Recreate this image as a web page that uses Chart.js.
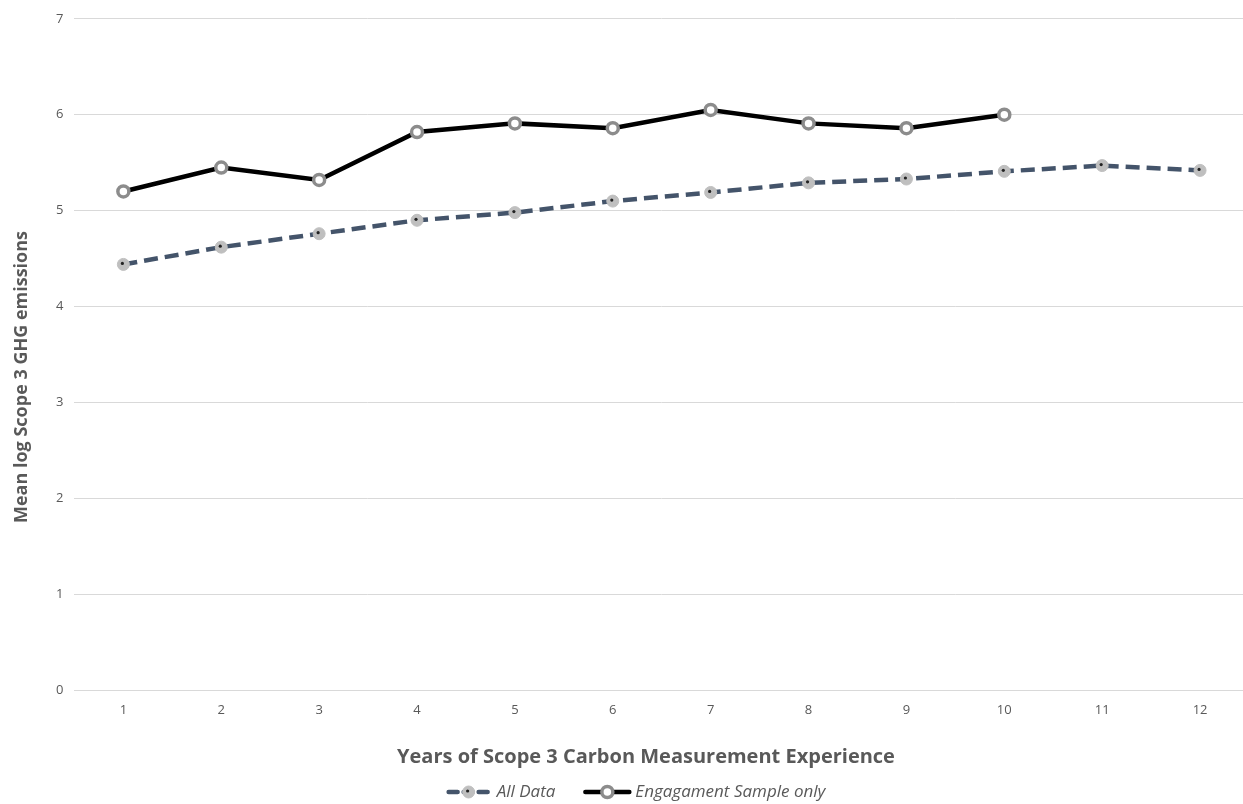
<!DOCTYPE html>
<html>
<head>
<meta charset="utf-8">
<script src="https://cdn.jsdelivr.net/npm/chart.js@4/dist/chart.umd.min.js"></script>
<style>
  html, body { margin: 0; padding: 0; background: #fff; overflow: hidden; }
  canvas { display: block; }
</style>
</head>
<body>
<canvas id="chart" width="1258" height="804"></canvas>
<script>
// data
var years = ['1', '2', '3', '4', '5', '6', '7', '8', '9', '10', '11', '12'];
var allData = [4.44, 4.62, 4.76, 4.90, 4.98, 5.10, 5.19, 5.29, 5.33, 5.41, 5.47, 5.42];
var engagement = [5.20, 5.45, 5.32, 5.82, 5.91, 5.86, 6.05, 5.91, 5.86, 6.00, null, null];
var yTicks = [0, 1, 2, 3, 4, 5, 6, 7];

var FONT = "'Open Sans', 'Liberation Sans', sans-serif";
var GREY = '#595959';
var X_TITLE = 'Years of Scope 3 Carbon Measurement Experience';
var Y_TITLE = 'Mean log Scope 3 GHG emissions';

// small dark fleck in the middle of the grey "All Data" markers
var flecks = {
  id: 'flecks',
  afterDatasetsDraw: function(chart) {
    var ctx = chart.ctx;
    var meta = chart.getDatasetMeta(0);
    ctx.save();
    ctx.fillStyle = '#222';
    meta.data.forEach(function(pt) {
      ctx.beginPath();
      ctx.arc(pt.x - 1, pt.y - 1, 1.6, 0, Math.PI * 2);
      ctx.fill();
    });
    ctx.restore();
  }
};

// axis titles and legend drawn by hand so they sit where the original has them
var extras = {
  id: 'extras',
  afterDraw: function(chart) {
    var ctx = chart.ctx;
    ctx.save();
    ctx.fillStyle = GREY;
    ctx.textAlign = 'center';
    ctx.textBaseline = 'middle';

    ctx.font = 'bold 20px ' + FONT;
    ctx.fillText(X_TITLE, 646, 757);

    ctx.save();
    ctx.translate(22, 377);
    ctx.rotate(-Math.PI / 2);
    ctx.font = 'bold 18px ' + FONT;
    ctx.fillText(Y_TITLE, 0, 0);
    ctx.restore();

    // legend
    ctx.font = 'italic 17px ' + FONT;
    var lineW = 48, gapText = 4, gapItem = 28;
    var items = chart.data.datasets.map(function(ds) {
      return { ds: ds, w: ctx.measureText(ds.label).width };
    });
    var total = 0;
    items.forEach(function(it, i) { total += lineW + gapText + it.w + (i ? gapItem : 0); });
    var x = 635 - total / 2, y = 792;
    ctx.textAlign = 'left';
    items.forEach(function(it, i) {
      var ds = it.ds;
      if (i) x += gapItem;
      ctx.beginPath();
      ctx.setLineDash(ds.borderDash ? [9, 6] : []);
      ctx.lineDashOffset = ds.borderDash ? -2 : 0;
      ctx.lineWidth = ds.borderWidth;
      ctx.strokeStyle = ds.borderColor;
      ctx.lineCap = 'round';
      ctx.moveTo(x + 2, y);
      ctx.lineTo(x + lineW - 2, y);
      ctx.stroke();
      ctx.setLineDash([]);
      ctx.beginPath();
      ctx.arc(x + lineW / 2, y, ds.pointRadius, 0, Math.PI * 2);
      ctx.fillStyle = ds.pointBackgroundColor;
      ctx.fill();
      ctx.lineWidth = ds.pointBorderWidth;
      ctx.strokeStyle = ds.pointBorderColor;
      ctx.stroke();
      if (ds.borderDash) {
        ctx.beginPath();
        ctx.fillStyle = '#222';
        ctx.arc(x + lineW / 2 - 1, y - 1, 1.6, 0, Math.PI * 2);
        ctx.fill();
      }
      x += lineW + gapText;
      ctx.fillStyle = GREY;
      ctx.fillText(ds.label, x, y);
      x += it.w;
    });
    ctx.restore();
  }
};

new Chart(document.getElementById('chart'), {
  type: 'line',
  data: {
    labels: years,
    datasets: [{
      label: 'All Data',
      data: allData,
      borderColor: '#44546A',
      backgroundColor: '#44546A',
      borderWidth: 4.5,
      borderDash: [14, 7],
      pointRadius: 6,
      pointBackgroundColor: '#BFBFBF',
      pointBorderColor: '#BFBFBF',
      pointBorderWidth: 1,
      tension: 0,
      order: 2
    }, {
      label: 'Engagament Sample only',
      data: engagement,
      borderColor: '#000000',
      backgroundColor: '#000000',
      borderWidth: 4.5,
      pointRadius: 5.5,
      pointBackgroundColor: '#FFFFFF',
      pointBorderColor: '#8C8C8C',
      pointBorderWidth: 3.5,
      tension: 0,
      order: 1
    }]
  },
  options: {
    responsive: false,
    animation: false,
    layout: { padding: { left: 45, right: 1, top: 12, bottom: 74 } },
    plugins: {
      legend: { display: false },
      tooltip: { enabled: false }
    },
    scales: {
      x: {
        offset: true,
        grid: { display: false, drawTicks: false },
        border: { display: true, color: '#D9D9D9', width: 1 },
        ticks: { color: GREY, font: { family: FONT, size: 13 }, padding: 12 }
      },
      y: {
        min: 0,
        max: 7,
        afterBuildTicks: function(axis) {
          axis.ticks = yTicks.map(function(v) { return { value: v }; });
        },
        grid: { color: '#D9D9D9', lineWidth: 1, drawTicks: false },
        border: { display: false },
        ticks: { color: GREY, font: { family: FONT, size: 13 }, padding: 11 }
      }
    }
  },
  plugins: [flecks, extras]
});
</script>
</body>
</html>
